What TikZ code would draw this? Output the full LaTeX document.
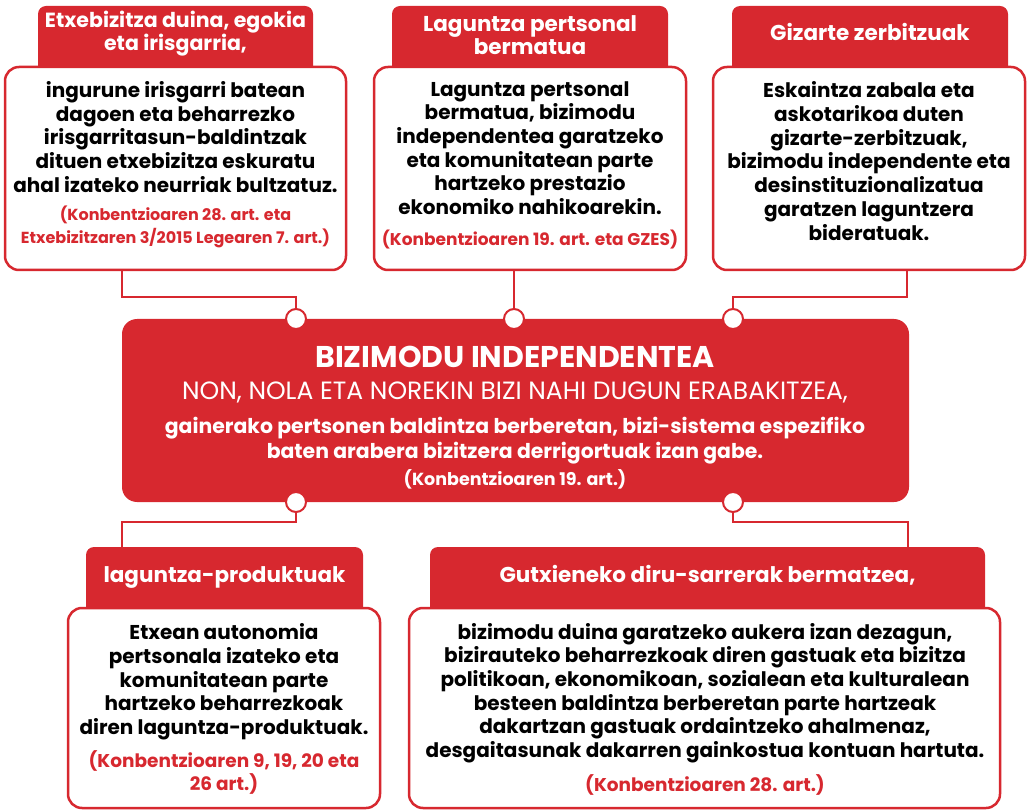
\documentclass[tikz,border=0pt]{standalone}
\usepackage{fontspec}
\setmainfont{Poppins}
\usetikzlibrary{positioning}
\definecolor{ered}{RGB}{215,40,47}

\begin{document}
\begin{tikzpicture}[x=1pt,y=-1pt,
 tab/.style={fill=ered,rounded corners=8pt,inner sep=0pt,minimum height=74},
 panel/.style={draw=ered,line width=2.5pt,fill=white,rounded corners=14pt,inner sep=0pt},
 tabtext/.style={text=white,font=\bfseries\fontsize{21.5}{23}\selectfont,align=center},
 body/.style={font=\bfseries\fontsize{20}{23.7}\selectfont,align=center},
 cite/.style={text=ered,font=\bfseries\fontsize{17}{23.5}\selectfont,align=center},
 link/.style={draw=ered,line width=2pt},
 dot/.style={circle,draw=ered,line width=2pt,fill=white,minimum size=20,inner sep=0pt}]
\useasboundingbox (0,0) rectangle (1028,810);
% top row: housing, personal assistance, social services
\node[tab,minimum width=275] (tabhome) at (175.5,43) {};
\node[panel,minimum width=341,minimum height=203] (home) at (175.5,168.5) {};
\node[tab,minimum width=276] (tabsupport) at (530,43) {};
\node[panel,minimum width=312,minimum height=203] (support) at (530,168.5) {};
\node[tab,minimum width=276] (tabservice) at (870,43) {};
\node[panel,minimum width=312,minimum height=203] (service) at (869,168.5) {};
% bottom row: assistive products, minimum income
\node[tab,minimum width=277] (tabproduct) at (224.5,584) {};
\node[panel,minimum width=312,minimum height=200] (product) at (224,708) {};
\node[tab,minimum width=555] (tabincome) at (707.5,584) {};
\node[panel,minimum width=591,minimum height=200] (income) at (704.5,708) {};
% centre
\node[fill=ered,rounded corners=15pt,minimum width=787,minimum height=183,inner sep=0pt] (centre) at (515.5,410.5) {};
\node[dot] (dhome) at (296,319) {};
\node[dot] (dsupport) at (514,319) {};
\node[dot] (dservice) at (733,319) {};
\node[dot] (dproduct) at (296,502) {};
\node[dot] (dincome) at (733,502) {};

\node[tabtext,font=\bfseries\fontsize{20.5}{23}\selectfont] (tabhometxt) at (175.5,34) {Etxebizitza duina, egokia\\eta irisgarria,};
\node[body] (hometxt) at (175.5,137) {ingurune irisgarri batean\\dagoen eta beharrezko\\irisgarritasun-baldintzak\\dituen etxebizitza eskuratu\\ahal izateko neurriak bultzatuz.};
\node[cite,font=\bfseries\fontsize{16}{23.5}\selectfont] (homecite) at (175.5,227) {(Konbentzioaren 28. art. eta\\Etxebizitzaren 3/2015 Legearen 7. art.)};

\node[tabtext] (tabsupporttxt) at (530,35) {Laguntza pertsonal\\bermatua};
\node[body] (supporttxt) at (530,148) {Laguntza pertsonal\\bermatua, bizimodu\\independentea garatzeko\\eta komunitatean parte\\hartzeko prestazio\\ekonomiko nahikoarekin.};
\node[cite] (supportcite) at (530,240) {(Konbentzioaren 19. art. eta GZES)};

\node[tabtext] (tabservicetxt) at (870,32) {Gizarte zerbitzuak};
\node[body] (servicetxt) at (869,161) {Eskaintza zabala eta\\askotarikoa duten\\gizarte-zerbitzuak,\\bizimodu independente eta\\desinstituzionalizatua\\garatzen laguntzera\\bideratuak.};

\node[text=white,font=\bfseries\fontsize{30}{34}\selectfont] (title) at (515,357) {BIZIMODU INDEPENDENTEA};
\node[text=white,font=\fontsize{25}{28}\selectfont] (question) at (515,392) {NON, NOLA ETA NOREKIN BIZI NAHI DUGUN ERABAKITZEA,};
\node[text=white,align=center,font=\bfseries\fontsize{20.4}{25}\selectfont] (condition) at (515,441) {gainerako pertsonen baldintza berberetan, bizi-sistema espezifiko\\baten arabera bizitzera derrigortuak izan gabe.};
\node[text=white,font=\bfseries\fontsize{17.5}{20}\selectfont] (centrecite) at (515,479) {(Konbentzioaren 19. art.)};

\node[tabtext] (tabproducttxt) at (224.5,577) {laguntza-produktuak};
\node[body] (producttxt) at (224,682) {Etxean autonomia\\pertsonala izateko eta\\komunitatean parte\\hartzeko beharrezkoak\\diren laguntza-produktuak.};
\node[cite,font=\bfseries\fontsize{18.5}{23}\selectfont] (productcite) at (224,772) {(Konbentzioaren 9, 19, 20 eta\\26 art.)};

\node[tabtext] (tabincometxt) at (707.5,575) {Gutxieneko diru-sarrerak bermatzea,};
\node[body] (incometxt) at (705,693) {bizimodu duina garatzeko aukera izan dezagun,\\bizirauteko beharrezkoak diren gastuak eta bizitza\\politikoan, ekonomikoan, sozialean eta kulturalean\\besteen baldintza berberetan parte hartzeak\\dakartzan gastuak ordaintzeko ahalmenaz,\\desgaitasunak dakarren gainkostua kontuan hartuta.};
\node[cite,font=\bfseries\fontsize{18.5}{23}\selectfont] (incomecite) at (705,785) {(Konbentzioaren 28. art.)};

% connectors
\coordinate (kh) at (122,297);
\coordinate (ks) at (907,297);
\coordinate (kp) at (122,522);
\coordinate (ki) at (908,522);
\draw[link] (home.south -| kh) -- (kh) -| (dhome);
\draw[link] (support.south -| dsupport) -- (dsupport);
\draw[link] (service.south -| ks) -- (ks) -| (dservice);
\draw[link] (dproduct) |- (kp) -- (kp |- tabproduct.north);
\draw[link] (dincome) |- (ki) -- (ki |- tabincome.north);
\end{tikzpicture}
\end{document}
